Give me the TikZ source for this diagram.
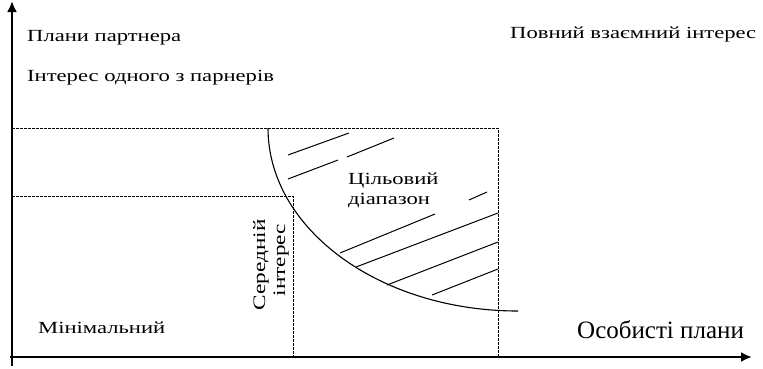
\documentclass[tikz,border=0pt]{standalone}
\usepackage{fontspec}
\setmainfont{Liberation Serif}
\newfontfamily\widefont[FakeStretch=1.33]{Liberation Serif}
\usetikzlibrary{arrows.meta}
\begin{document}
\begin{tikzpicture}[x=1pt,y=-1pt,
  axis/.style={line width=2.8pt,-{Latex[length=11pt,width=10pt]}},
  guide/.style={line width=0.8pt,dash pattern=on 2.5pt off 1.5pt},
  hatch/.style={line width=1pt},
  lbl/.style={font=\widefont\fontsize{17}{20}\selectfont,inner sep=0pt,anchor=base west},
  vlbl/.style={font=\widefont\fontsize{17.5}{20}\selectfont,inner sep=0pt,anchor=base,rotate=90}]
\useasboundingbox (0,0) rectangle (763,368);
% axes
\coordinate (ytop) at (12,1);
\coordinate (xend) at (752,357);
\coordinate (ystart) at (12,366);
\coordinate (xstart) at (10,357);
\draw[axis] (ystart) -- (ytop);
\draw[axis] (xstart) -- (xend);
% dashed guides
\coordinate (outerL) at (12,128);
\coordinate (outerR) at (498,128);
\coordinate (outerB) at (498,357);
\coordinate (innerL) at (12,196);
\coordinate (innerR) at (293,196);
\coordinate (innerB) at (293,357);
\draw[guide] (outerL) -- (outerR) -- (outerB);
\draw[guide] (innerL) -- (innerR) -- (innerB);
% curve (quarter ellipse)
\coordinate (cstart) at (268,128);
\draw[line width=1.1pt] (cstart) arc[start angle=180,end angle=90,x radius=250,y radius=183];
% hatch
\draw[hatch] (288,155) -- (349,133);
\draw[hatch] (288,179) -- (338,160);
\draw[hatch] (347,157) -- (394,138);
\draw[hatch] (469,200) -- (487,192);
\draw[hatch] (340,253) -- (435,214);
\draw[hatch] (356,267) -- (498,213);
\draw[hatch] (387,285) -- (498,242);
\draw[hatch] (432,295) -- (498,269);
% labels
\node[lbl] (plany) at (27,41) {Плани партнера};
\node[lbl] (odnogo) at (27,81) {Інтерес одного з парнерів};
\node[lbl] (povnyi) at (510,38) {Повний взаємний інтерес};
\node[lbl] (target1) at (348,184) {Цільовий};
\node[lbl] (target2) at (348,204) {діапазон};
\node[vlbl] (seredn1) at (265,265) {Середній};
\node[vlbl] (seredn2) at (285,260) {інтерес};
\node[lbl] (minim) at (38,333) {Мінімальний};
\node[lbl,font=\fontsize{25}{28}\selectfont] (osob) at (577,338) {Особисті плани};
\end{tikzpicture}
\end{document}
